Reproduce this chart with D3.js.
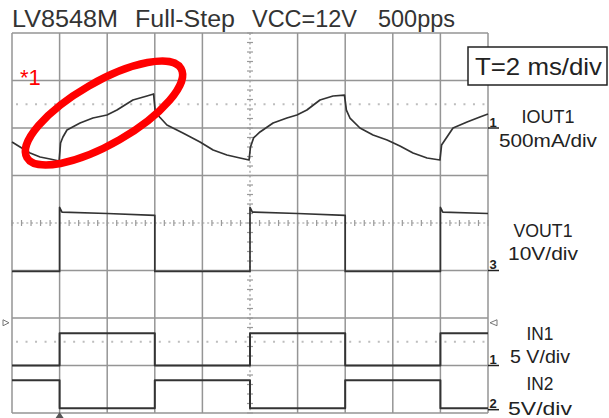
<!DOCTYPE html>
<html><head><meta charset="utf-8">
<script src="https://cdn.jsdelivr.net/npm/d3@7"></script>
<style>html,body{margin:0;padding:0;background:#fff;}svg{display:block;}</style>
</head><body>
<svg id="c" width="609" height="418"></svg>
<script>
// ---- data ----
const titleWords = ["LV8548M", "Full-Step", "VCC=12V", "500pps"];
const timebaseLabel = "T=2 ms/div";
const channelNames = ["IOUT1", "VOUT1", "IN1", "IN2"];
const channelScales = ["500mA/div", "10V/div", "5 V/div", "5V/div"];
const channelMarkers = ["1", "3", "1", "2"];
const channelOffsets = [2, -1, -3, -3.93];      // ground level (div)
const channelPerDiv = [500, 10, 5, 5];           // units per div
const annotation = "*1";

// IOUT1 current (ms, mA)
const iout1 = [
  [0,-147],[0.34,-200],[0.76,-263],[1.18,-305],[1.6,-326],[1.98,-347],
  [2.04,-158],[2.14,-95],[2.31,-21],[2.86,53],[3.4,105],[3.99,137],[4.41,189],
  [5.08,295],[5.67,337],[5.95,358],[6.02,168],[6.2,116],[6.51,32],[7.18,-53],
  [7.9,-147],[8.45,-232],[9.03,-284],[9.58,-316],[9.96,-337],
  [10.02,-200],[10.15,-105],[10.42,-42],[10.97,53],[11.55,105],[11.97,137],
  [12.39,189],[12.94,295],[13.49,337],[13.97,347],[14.05,189],[14.2,105],
  [14.62,0],[15.17,-74],[15.76,-126],[16.3,-189],[16.85,-263],[17.44,-316],
  [17.98,-337],[18.05,-179],[18.53,0],[19.12,63],[19.66,116],[20,147]
];
// VOUT1 voltage (ms, V)
const vout1 = [
  [0,-0.2],[2,-0.2],[2,13.3],[2.1,12.3],[4,12],[6,11.6],[6,-0.2],[10,-0.2],
  [10,13.3],[10.1,12.3],[12,12],[14,11.6],[14,-0.2],[18,-0.2],[18,13.3],[18.1,12.3],[20,12]
];
// IN1 (ms, V)
const in1 = [
  [0,0],[2,0],[2,3.4],[6,3.4],[6,0],[10,0],[10,3.4],[14,3.4],[14,0],[18,0],[18,3.4],[20,3.4]
];
// IN2 (ms, V)
const in2 = [
  [0,3.1],[2,3.1],[2,0.15],[6,0.15],[6,3.1],[10,3.1],[10,0.15],[14,0.15],[14,3.1],[18,3.1],[18,0.15],[20,0.15]
];
const traces = [iout1, vout1, in1, in2];

// ---- layout ----
const svg = d3.select("#c");
const x = d3.scaleLinear().domain([0, 20]).range([12, 488]);
const y = d3.scaleLinear().domain([-4, 4]).range([413, 33]);
const font = "'Liberation Sans', Arial, sans-serif";

// grid
const g = svg.append("g");
const xDivs = d3.range(0, 21, 2);
const yDivs = d3.range(-4, 5, 1);
g.selectAll("line.v").data(xDivs.filter(d => d !== 10)).join("line")
  .attr("x1", d => x(d)).attr("x2", d => x(d)).attr("y1", y(4)).attr("y2", y(-4))
  .attr("stroke", "#959595").attr("stroke-width", 1.5);
g.selectAll("line.h").data(yDivs.filter(d => d !== 0)).join("line")
  .attr("x1", x(0)).attr("x2", x(20)).attr("y1", d => y(d)).attr("y2", d => y(d))
  .attr("stroke", "#959595").attr("stroke-width", 1.5);
// centre axes with minor ticks
const minorX = d3.range(0, 20.01, 0.4);
const minorY = d3.range(-4, 4.01, 0.2);
g.append("line").attr("x1", x(0)).attr("x2", x(20)).attr("y1", y(0)).attr("y2", y(0))
  .attr("stroke", "#9a9a9a").attr("stroke-width", 1.2).attr("stroke-dasharray", "2,2.76");
g.append("line").attr("x1", x(10)).attr("x2", x(10)).attr("y1", y(4)).attr("y2", y(-4))
  .attr("stroke", "#9a9a9a").attr("stroke-width", 1.2).attr("stroke-dasharray", "2,2.75");
g.selectAll("line.tx").data(minorX).join("line")
  .attr("x1", d => x(d)).attr("x2", d => x(d)).attr("y1", y(0) - 3).attr("y2", y(0) + 3)
  .attr("stroke", "#9a9a9a").attr("stroke-width", 1.2);
g.selectAll("line.ty").data(minorY).join("line")
  .attr("x1", x(10) - 3).attr("x2", x(10) + 3).attr("y1", d => y(d)).attr("y2", d => y(d))
  .attr("stroke", "#9a9a9a").attr("stroke-width", 1.2);
// dotted reference lines
[2.5, -2.5].forEach(lv => {
  g.append("line").attr("x1", x(0) + 4).attr("x2", x(20)).attr("y1", y(lv)).attr("y2", y(lv))
    .attr("stroke", "#bdbdbd").attr("stroke-width", 2).attr("stroke-dasharray", "2,7.52");
});

// traces
const line = d3.line();
traces.forEach((tr, i) => {
  svg.append("path")
    .attr("d", line(tr.map(p => [x(p[0]), y(p[1] / channelPerDiv[i] + channelOffsets[i])])))
    .attr("fill", "none").attr("stroke", "#333")
    .attr("stroke-width", i >= 2 ? 2 : 1.7).attr("stroke-linejoin", "round");
});

// channel ground markers on right edge
channelMarkers.forEach((m, i) => {
  const yy = y(channelOffsets[i]);
  svg.append("line").attr("x1", x(20)).attr("x2", x(20) + 11).attr("y1", yy).attr("y2", yy)
    .attr("stroke", "#222").attr("stroke-width", 1.5);
  svg.append("text").attr("x", x(20) + 5).attr("y", yy - 1.5).attr("text-anchor", "middle")
    .attr("font-family", font).attr("font-size", 13).attr("font-weight", "bold").attr("fill", "#222").text(m);
});
// trigger markers
svg.append("path").attr("d", `M3,${y(-2.1)-3}L9,${y(-2.1)}L3,${y(-2.1)+3}Z`).attr("fill", "none").attr("stroke", "#777").attr("stroke-width", 1);
svg.append("path").attr("d", `M497,${y(-2.1)-3}L490,${y(-2.1)}L497,${y(-2.1)+3}Z`).attr("fill", "none").attr("stroke", "#777").attr("stroke-width", 1);
svg.append("path").attr("d", `M${x(2)-4},418L${x(2)},412L${x(2)+4},418Z`).attr("fill", "#555");

// channel labels
const labelPos = [
  {cx: 548, y1: 123, w1: 53, y2: 147, w2: 98},
  {cx: 543, y1: 237, w1: 59, y2: 260, w2: 70},
  {cx: 540, y1: 340, w1: 27, y2: 363, w2: 60},
  {cx: 540, y1: 390, w1: 27, y2: 415, w2: 64}
];
channelNames.forEach((n, i) => {
  const p = labelPos[i];
  svg.append("text").attr("x", p.cx).attr("y", p.y1).attr("text-anchor", "middle")
    .attr("font-family", font).attr("font-size", 18).attr("fill", "#222")
    .attr("textLength", p.w1).attr("lengthAdjust", "spacingAndGlyphs").text(n);
  svg.append("text").attr("x", p.cx).attr("y", p.y2).attr("text-anchor", "middle")
    .attr("font-family", font).attr("font-size", 18).attr("fill", "#222")
    .attr("textLength", p.w2).attr("lengthAdjust", "spacingAndGlyphs").text(channelScales[i]);
});

// timebase box
svg.append("rect").attr("x", 468).attr("y", 47).attr("width", 139).attr("height", 38)
  .attr("fill", "#fff").attr("stroke", "#222").attr("stroke-width", 1.5);
svg.append("text").attr("x", 475).attr("y", 75).attr("font-family", font).attr("font-size", 24)
  .attr("fill", "#222").attr("textLength", 127).attr("lengthAdjust", "spacingAndGlyphs").text(timebaseLabel);

// title
const titlePos = [[12, 106], [135, 100], [252, 105], [378, 77]];
titleWords.forEach((w, i) => {
  svg.append("text").attr("x", titlePos[i][0]).attr("y", 27).attr("font-family", font)
    .attr("font-size", 23).attr("fill", "#333")
    .attr("textLength", titlePos[i][1]).attr("lengthAdjust", "spacingAndGlyphs").text(w);
});

// red annotation
svg.append("ellipse").attr("cx", 104).attr("cy", 113).attr("rx", 89).attr("ry", 31)
  .attr("transform", "rotate(-30,104,113)")
  .attr("fill", "none").attr("stroke", "#ff0000").attr("stroke-width", 7.5);
svg.append("text").attr("x", 20).attr("y", 85).attr("font-family", font).attr("font-size", 22)
  .attr("fill", "#ff0000").text(annotation);
</script>
</body></html>
